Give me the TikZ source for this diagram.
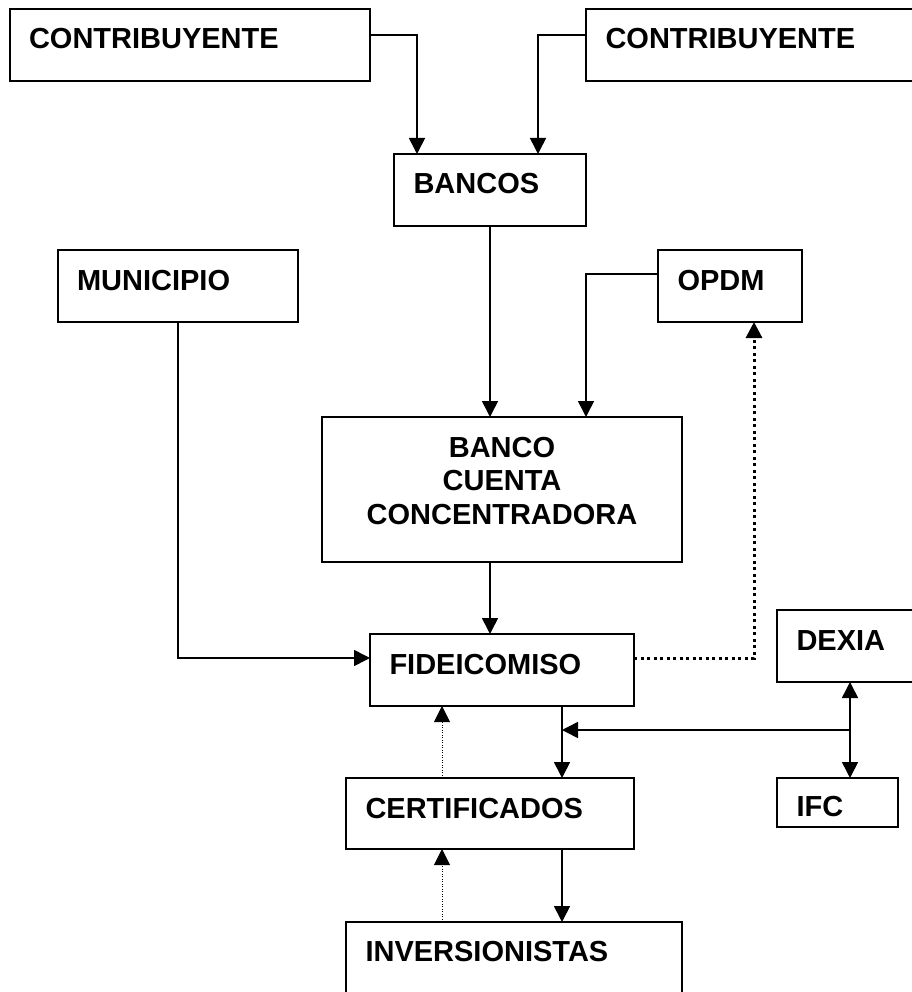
\documentclass[tikz,border=0pt]{standalone}
\usepackage{fontspec}
\setmainfont{Liberation Sans}
\usetikzlibrary{arrows.meta,calc}

\begin{document}
\begin{tikzpicture}[x=1pt,y=-1pt,
    caja/.style={draw,line width=2pt,anchor=north west,outer sep=0pt,
      inner xsep=19.5pt,inner ysep=0pt,align=left,
      text height=40pt,text depth=32pt,
      font=\bfseries\fontsize{29}{33.5}\selectfont},
    flecha/.style={line width=1.6pt,-{Triangle[length=16pt,width=16pt]}},
    doble/.style={line width=1.6pt,{Triangle[length=16pt,width=16pt]}-{Triangle[length=16pt,width=16pt]}},
    punteada/.style={line width=3pt,dash pattern=on 3pt off 3.5pt,-{Triangle[length=16pt,width=16pt]}},
    puntos/.style={line width=1pt,dash pattern=on 1pt off 1.5pt,-{Triangle[length=16pt,width=16pt]}}]
    \useasboundingbox (0,0) rectangle (911,992);
    % cajas
    \node[caja,text width=321.5pt,text height=39.5pt,text depth=33pt] (contrib1) at (9.5,9) {CONTRIBUYENTE};
    \node[caja,text width=301pt,text height=39.5pt,text depth=33pt] (contrib2) at (586,9) {CONTRIBUYENTE};
    \node[caja,text width=153pt,text height=39.5pt,text depth=32.5pt] (bancos) at (394,154) {BANCOS};
    \node[caja,text width=201.5pt] (muni) at (57.5,250) {MUNICIPIO};
    \node[caja,text width=105pt] (opdm) at (658,250) {OPDM};
    \node[caja,inner xsep=0pt,text width=360pt,align=center,text depth=105pt] (bcc) at (322,417) {BANCO\\CUENTA\\CONCENTRADORA};
    \node[caja,text width=225pt] (fid) at (370,634) {FIDEICOMISO};
    \node[caja,text width=107pt] (dexia) at (777,610) {DEXIA};
    \node[caja,text width=249pt,text depth=31pt] (cert) at (346,778) {CERTIFICADOS};
    \node[caja,text width=82pt,text height=38pt,text depth=11pt] (ifc) at (777,778) {IFC};
    \node[caja,text width=297pt,text height=39pt,text depth=80pt] (inv) at (346,922) {INVERSIONISTAS};
    % conectores
    \draw[flecha] ([yshift=10.5pt]contrib1.east) -| ([xshift=-73pt]bancos.north);
    \draw[flecha] ([yshift=10.5pt]contrib2.west) -| ([xshift=48pt]bancos.north);
    \draw[flecha] (bancos.south) -- (bancos.south |- bcc.north);
    \draw[flecha] ([yshift=12pt]opdm.west) -| ([xshift=84pt]bcc.north);
    \draw[flecha] ([xshift=-12pt]bcc.south) -- ([xshift=-12pt]fid.north);
    \draw[flecha] (muni.south) |- ([yshift=12pt]fid.west);
    \draw[punteada] ([yshift=12pt]fid.east) -| ([xshift=24pt]opdm.south);
    % dexia, ifc y certificados
    \coordinate (cruce) at ($(dexia.south)!0.5!(ifc.north -| dexia.south)$);
    \coordinate (baja) at ([xshift=60pt]fid.south);
    \draw[doble] (dexia.south) -- (dexia.south |- ifc.north);
    \draw[flecha] (cruce) -- (cruce -| baja);
    \draw[flecha] (baja) -- (baja |- cert.north);
    \draw[puntos] ([xshift=-48pt]cert.north) -- ([xshift=-48pt]cert.north |- fid.south);
    \draw[flecha] ([xshift=72pt]cert.south) -- ([xshift=72pt]cert.south |- inv.north);
    \draw[puntos] ([xshift=-48pt]cert.south |- inv.north) -- ([xshift=-48pt]cert.south);
\end{tikzpicture}
\end{document}
